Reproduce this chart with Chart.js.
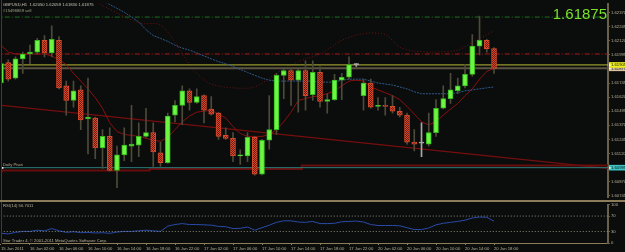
<!DOCTYPE html>
<html><head><meta charset="utf-8">
<script src="https://cdn.jsdelivr.net/npm/chart.js@4/dist/chart.umd.min.js"></script>
<style>
html,body{margin:0;padding:0;background:#0b0d0c;}
#wrap{position:relative;width:625px;height:252px;overflow:hidden;background:#0b0d0c;}
.pane{position:absolute;left:0;width:625px;}
</style></head><body>
<div id="wrap">
<div class="pane" style="top:0;height:201px"><canvas id="main" width="625" height="201"></canvas></div>
<div class="pane" style="top:201px;height:51px"><canvas id="rsi" width="625" height="51"></canvas></div>
</div>
<script>
// ---- data (GBPUSD H1, 15 Jun 22:00 .. 20 Jun 18:00) ----
const opens = [1.61745,1.61925,1.61788,1.61959,1.62002,1.62019,1.62123,1.62011,1.62123,1.61719,
1.61590,1.61684,1.61427,1.61435,1.61169,1.61272,1.60971,1.61109,1.61186,1.61195,
1.61272,1.61306,1.61126,1.61040,1.61461,1.61547,1.61676,1.61573,1.61633,1.61513,
1.61478,1.61281,1.61255,1.61100,1.61100,1.61263,1.60937,1.61238,1.61332,1.61813,
1.61856,1.61770,1.61856,1.61641,1.61839,1.61581,1.61598,1.61770,1.61796,1.61908,
1.61633,1.61745,1.61538,1.61547,1.61538,1.61495,1.61461,1.61221,1.61212,1.61203,
1.61306,1.61521,1.61607,1.61676,1.61719,1.61822,1.62071,1.62123,1.62050];
const highs = [1.61934,1.61951,1.61976,1.62019,1.62080,1.62140,1.62165,1.62251,1.62157,1.61762,
1.61762,1.61719,1.61788,1.61444,1.61332,1.61349,1.61186,1.61349,1.61547,1.61392,
1.61521,1.61392,1.61221,1.61478,1.61590,1.61719,1.61693,1.61693,1.61640,1.61624,
1.61485,1.61349,1.61306,1.61152,1.61306,1.61272,1.61246,1.61633,1.61830,1.61865,
1.61873,1.61865,1.61942,1.61942,1.61891,1.61650,1.61822,1.61830,1.61976,1.61916,
1.61779,1.61779,1.61616,1.61616,1.61633,1.61530,1.61478,1.61332,1.61392,1.61478,
1.61598,1.61719,1.61830,1.61788,1.61908,1.62174,1.62337,1.62131,1.62059];
const lows = [1.61727,1.61762,1.61779,1.61830,1.61916,1.62002,1.61976,1.61976,1.61693,1.61461,
1.61530,1.61332,1.61117,1.61075,1.60989,1.60963,1.60817,1.61057,1.61049,1.61092,
1.61262,1.61006,1.61006,1.61032,1.61401,1.61375,1.61504,1.61565,1.61392,1.61461,
1.61246,1.61246,1.61049,1.61023,1.61049,1.60929,1.60930,1.61160,1.61289,1.61607,
1.61547,1.61487,1.61504,1.61590,1.61530,1.61478,1.61590,1.61598,1.61779,1.61891,
1.61504,1.61522,1.61504,1.61461,1.61478,1.61444,1.61203,1.61143,1.61092,1.61186,
1.61272,1.61515,1.61564,1.61650,1.61702,1.61805,1.61994,1.62019,1.61830];
const closes = [1.61916,1.61779,1.61959,1.62002,1.62019,1.62123,1.62011,1.62131,1.61702,1.61590,
1.61676,1.61418,1.61444,1.61169,1.61272,1.60971,1.61109,1.61195,1.61203,1.61272,
1.61306,1.61135,1.61040,1.61452,1.61547,1.61676,1.61573,1.61624,1.61504,1.61470,
1.61272,1.61255,1.61100,1.61109,1.61263,1.60937,1.61238,1.61332,1.61813,1.61856,
1.61770,1.61856,1.61633,1.61839,1.61581,1.61598,1.61770,1.61796,1.61908,1.61908,
1.61745,1.61530,1.61547,1.61538,1.61495,1.61461,1.61221,1.61203,1.61212,1.61306,
1.61521,1.61607,1.61684,1.61719,1.61822,1.62071,1.62123,1.62050,1.61875];
const blueMA = [null,null,null,null,null,null,null,null,null,null,
null,null,1.62561,1.62518,1.62475,1.62440,1.62406,1.62372,1.62329,1.62286,
1.62217,1.62165,1.62140,1.62114,1.62080,1.62054,1.62037,1.62011,1.61985,1.61959,
1.61934,1.61916,1.61891,1.61865,1.61839,1.61813,1.61788,1.61770,1.61762,1.61762,
1.61762,1.61762,1.61762,1.61762,1.61753,1.61753,1.61753,1.61770,1.61779,1.61779,
1.61779,1.61762,1.61745,1.61736,1.61727,1.61710,1.61693,1.61667,1.61650,1.61650,
1.61650,1.61650,1.61650,1.61659,1.61676,1.61684,1.61693,1.61702,1.61710];
const redMA = [1.62080,1.62019,1.62002,1.62002,1.62002,1.62002,1.62002,1.61985,1.61951,1.61908,
1.61830,1.61762,1.61693,1.61616,1.61521,1.61392,1.61315,1.61289,1.61281,1.61272,
1.61255,1.61238,1.61229,1.61263,1.61332,1.61401,1.61452,1.61487,1.61495,1.61504,
1.61470,1.61435,1.61358,1.61298,1.61272,1.61272,1.61272,1.61289,1.61332,1.61401,
1.61487,1.61590,1.61607,1.61624,1.61633,1.61650,1.61676,1.61719,1.61762,1.61770,
1.61762,1.61710,1.61684,1.61659,1.61633,1.61598,1.61538,1.61470,1.61401,1.61375,
1.61401,1.61461,1.61513,1.61564,1.61633,1.61693,1.61779,1.61848,1.61873];
const upperBandIdx = [13,19,22,24,25,27,29,32,35,38,41,44,47,50,53,55,57,60,63,65,67,68];
const upperBand    = [1.62466,1.62277,1.62260,1.62105,1.62002,1.61831,1.61736,1.61702,1.61710,1.61831,1.61934,
1.62002,1.62123,1.62183,1.62174,1.62062,1.62028,1.62019,1.62037,1.62105,1.62174,1.62208];
const rsiValues = [25.2,23.6,27.6,30.1,30.1,33.3,31.7,37.4,31.7,27.6,
29.3,26.8,27.6,26.0,26.8,25.2,28.5,30.1,30.1,31.7,
33.3,31.7,30.1,43.9,48.0,50.4,48.0,48.0,47.2,46.3,
43.1,42.3,37.4,38.2,41.5,33.3,39.8,46.3,53.7,57.7,
57.7,54.5,53.7,56.1,50.4,50.4,51.2,55.3,56.1,56.9,
54.5,48.0,45.5,45.5,45.5,44.7,39.8,35.0,35.0,39.0,
47.2,51.2,53.7,56.1,59.3,65.0,67.5,66.7,56.7];
const priceTicks = [1.62370,1.62245,1.62120,1.61995,1.61870,1.61745,1.61620,1.61495,1.61370,1.61245,1.61120,1.60995,1.60870,1.60745];
const rsiTicks = [0,30,70,100];
const timeLabelIdx = [0,4,8,12,16,20,24,28,32,36,40,44,48,52,56,60,64,68];
const timeLabels = ['15 Jun 2011','16 Jun 02:00','16 Jun 06:00','16 Jun 10:00','16 Jun 14:00','16 Jun 18:00','16 Jun 22:00',
'17 Jun 02:00','17 Jun 06:00','17 Jun 10:00','17 Jun 14:00','17 Jun 18:00','17 Jun 22:00',
'20 Jun 02:00','20 Jun 06:00','20 Jun 10:00','20 Jun 14:00','20 Jun 18:00'];
const bidLevel = 1.61875, hLineLevel = 1.61905, slLevel = 1.62002, orderLevel = 1.62329, pivotLevel = 1.60995;
const trendStart = 1.61547, trendEnd = 1.60989;
const pivotHistIdx = [0.14,20.5,41.5,64.5,83.72];
const pivotHist = [1.60954,1.60971,1.60984,1.61014,1.61014];
const headerText = 'GBPUSD,H1  1.62050 1.62059 1.61830 1.61875';

// ---- layout / style ----
const BG = '#0b0d0c';
const FONT = '"Liberation Sans", Arial, sans-serif';
const xMin = 0.14, xMax = 83.72;
const yMax = 1.62449, yMin = 1.62449 - 200*0.0000859;
const AXIS = '#b8b098';

const mainCanvas = document.getElementById('main');
const mctx = mainCanvas.getContext('2d');
const pc = document.createElement('canvas'); pc.width = 2; pc.height = 2;
const pg = pc.getContext('2d');
pg.fillStyle = '#6e1a10'; pg.fillRect(0,0,2,2);
pg.fillStyle = '#d8482c'; pg.fillRect(0,0,1,1); pg.fillRect(1,1,1,1);
const bearPattern = mctx.createPattern(pc, 'repeat');

const isDoji = i => opens[i] === closes[i];
const isBull = i => closes[i] > opens[i];
const wickColors = opens.map((o,i)=> isDoji(i) ? '#a8a8a8' : '#4e4a3a');
const bodyFill = opens.map((o,i)=> isDoji(i) ? '#a8a8a8' : (isBull(i) ? '#6cf542' : bearPattern));
const bodyBorder = opens.map((o,i)=> isDoji(i) ? '#a8a8a8' : (isBull(i) ? '#35b81f' : '#d44a2a'));

const hline = (v, color, width, dash, order) => ({type:'line', data:[{x:xMin-1,y:v},{x:xMax+1,y:v}], borderColor:color,
  borderWidth:width, borderDash:dash||[], pointRadius:0, order:order||5});

const mainDeco = {
  id:'mainDeco',
  beforeDraw(c){ const g=c.ctx; g.save(); g.fillStyle=BG; g.fillRect(0,0,c.width,c.height); g.restore(); },
  afterDraw(c){
    const g=c.ctx, ys=c.scales.y, a=c.chartArea;
    g.save();
    g.fillStyle='#3e3c34'; g.fillRect(1,0,1,200);
    g.fillStyle='#8c7c5a'; g.fillRect(0,200,625,1);
    const box=(v,bg)=>{ const y=ys.getPixelForValue(v);
      g.fillStyle=bg; g.fillRect(a.right+1,y-2.8,17,5.6);
      g.fillStyle='#101010'; g.font='4.2px '+FONT; g.textBaseline='middle'; g.textAlign='left';
      g.fillText(v.toFixed(5), a.right+3, y+0.2);
      g.fillStyle='#ffffff'; g.fillRect(a.right+1,y-0.5,1.5,1.5); };
    box(bidLevel,'#dcc4a0');
    box(hLineLevel,'#ecec1e');
    box(pivotLevel,'#3ec6c6');
    g.textBaseline='middle'; g.textAlign='left';
    g.font='4.2px '+FONT; g.fillStyle='#c4c2b4';
    g.fillText(headerText, 3, 5);
    g.fillStyle='#a0a088';
    g.fillText('#15496869 sell', 3, 11);
    g.fillStyle='#b8a888';
    g.fillText('Daily Pivot', 3, ys.getPixelForValue(pivotLevel)-3);
    g.fillStyle='#ffffff'; g.fillRect(2,ys.getPixelForValue(pivotLevel)-0.5,1.5,1.5);
    g.font='15px '+FONT; g.fillStyle='#7be02a'; g.textAlign='right'; g.textBaseline='alphabetic';
    g.fillText(bidLevel.toFixed(5), 607, 18.5);
    g.restore();
  }
};

new Chart(mctx, {
  type:'bar',
  data:{datasets:[
    {type:'bar', data:lows.map((l,i)=>({x:i,y:[l,highs[i]]})), backgroundColor:wickColors, borderWidth:0,
      barThickness:1, grouped:false, order:1},
    {type:'bar', data:opens.map((o,i)=>({x:i,y:[o,closes[i]]})), backgroundColor:bodyFill, borderColor:bodyBorder,
      borderWidth:1, borderSkipped:false, barThickness:5, minBarLength:1, grouped:false, order:0},
    hline(orderLevel,'#1e6e1e',1,[5,2,1,2],6),
    hline(slLevel,'#a81a1a',1,[5,2,1,2],6),
    hline(hLineLevel,'#bcbc36',1,null,4),
    hline(bidLevel,'#5c5442',2,null,4),
    hline(pivotLevel,'#2c7c7c',1,null,6),
    {type:'line', data:pivotHistIdx.map((x,i)=>({x:x,y:pivotHist[i]})), stepped:'after', borderColor:'#680c0c',
      borderWidth:2, pointRadius:0, order:7},
    {type:'line', data:[{x:xMin,y:trendStart},{x:xMax,y:trendEnd}], borderColor:'#760e0e', borderWidth:1.4, pointRadius:0, order:7},
    {type:'line', data:upperBandIdx.map((x,i)=>({x:x,y:upperBand[i]})), borderColor:'#6a1414', borderWidth:1,
      borderDash:[1,2], pointRadius:0, tension:0.3, order:8},
    {type:'line', data:blueMA.map((v,i)=>({x:i,y:v})), borderColor:'#2f5a8c', borderWidth:1, borderDash:[2,1],
      pointRadius:0, spanGaps:false, order:3},
    {type:'line', data:redMA.map((v,i)=>({x:i,y:v})), borderColor:'#8a1010', borderWidth:1, pointRadius:0, order:3}
  ]},
  options:{
    responsive:false, animation:false, events:[],
    layout:{padding:{left:2,right:0,top:0,bottom:1}},
    plugins:{legend:{display:false}, tooltip:{enabled:false}},
    scales:{
      x:{type:'linear', min:xMin, max:xMax, display:false, offset:false},
      y:{position:'right', min:yMin, max:yMax,
        afterFit(s){ s.width=17; },
        afterBuildTicks(s){ s.ticks = priceTicks.map(v=>({value:v})); },
        ticks:{font:{family:FONT,size:4.2}, color:AXIS, padding:1, callback:v=>Number(v).toFixed(5)},
        grid:{display:true, drawOnChartArea:false, drawTicks:true, tickLength:2, color:'#6a604a'},
        border:{display:true, color:'#6a604a', width:2}}
    }
  },
  plugins:[mainDeco]
});

// ---- RSI pane ----
const rsiDeco = {
  id:'rsiDeco',
  beforeDraw(c){ const g=c.ctx; g.save(); g.fillStyle=BG; g.fillRect(0,0,c.width,c.height); g.restore(); },
  afterDraw(c){
    const g=c.ctx; g.save();
    g.fillStyle='#8c7c5a'; g.fillRect(0,0,625,1);
    g.fillStyle='#3e3c34'; g.fillRect(1,1,1,41);
    g.font='4.2px '+FONT; g.textBaseline='middle'; g.textAlign='left'; g.fillStyle='#b8b098';
    g.fillText('RSI(14) 56.7011', 3, 5);
    g.fillText('Star Trader 4, \u00a9 2001-2011 MetaQuotes Software Corp.', 3, 39.5);
    g.restore();
  }
};
new Chart(document.getElementById('rsi').getContext('2d'), {
  type:'line',
  data:{datasets:[
    {data:[{x:xMin-1,y:70},{x:xMax+1,y:70}], borderColor:'#8a8a7a', borderWidth:1, borderDash:[1,2], pointRadius:0},
    {data:[{x:xMin-1,y:30},{x:xMax+1,y:30}], borderColor:'#8a8a7a', borderWidth:1, borderDash:[1,2], pointRadius:0},
    {data:rsiValues.map((v,i)=>({x:i,y:v})), borderColor:'#2a4aa8', borderWidth:1, pointRadius:0}
  ]},
  options:{
    responsive:false, animation:false, events:[],
    layout:{padding:{left:2,right:0,top:1,bottom:0}},
    plugins:{legend:{display:false}, tooltip:{enabled:false}},
    scales:{
      x:{type:'linear', min:xMin, max:xMax, offset:false,
        afterFit(s){ s.height=9; },
        afterBuildTicks(s){ s.ticks = timeLabelIdx.map(v=>({value:v})); },
        ticks:{font:{family:FONT,size:4.2}, color:AXIS, padding:1, align:'start', maxRotation:0, autoSkip:false,
          callback:v=>timeLabels[timeLabelIdx.indexOf(v)]},
        grid:{display:true, drawOnChartArea:false, drawTicks:true, tickLength:2, color:'#8c7c5a'},
        border:{display:true, color:'#8c7c5a', width:1}},
      y:{position:'right', min:0, max:100,
        afterFit(s){ s.width=17; },
        afterBuildTicks(s){ s.ticks = rsiTicks.map(v=>({value:v})); },
        ticks:{font:{family:FONT,size:4.2}, color:AXIS, padding:1},
        grid:{display:true, drawOnChartArea:false, drawTicks:true, tickLength:2, color:'#6a604a'},
        border:{display:true, color:'#6a604a', width:2}}
    }
  },
  plugins:[rsiDeco]
});
</script>
</body></html>
